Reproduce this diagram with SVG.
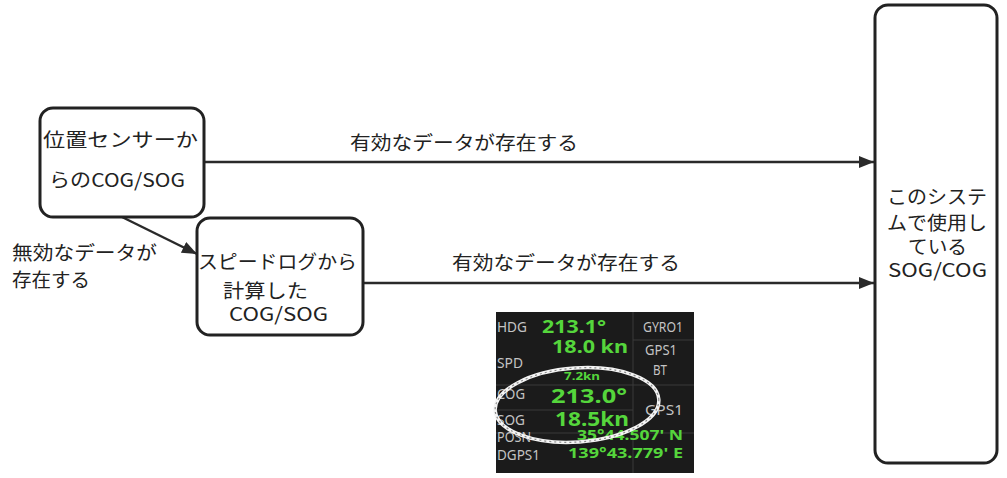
<svg xmlns="http://www.w3.org/2000/svg" width="1007" height="478" viewBox="0 0 1007 478">
<style>
.box{fill:#fff;stroke:#222;stroke-width:3}
.t{font-family:"Noto Sans CJK JP","Noto Sans",sans-serif;font-size:19px;fill:#222}
.edge{stroke:#2a2a2a;stroke-width:2.5;fill:none}
.g{font-family:"Noto Sans","Open Sans",sans-serif;font-weight:bold;fill:#55d63c}
.w{font-family:"Noto Sans","Open Sans",sans-serif;fill:#c4c4c4;font-size:14px}
.div{stroke:#3a3a3a;stroke-width:1}
</style>
<defs>
<marker id="ah" markerUnits="userSpaceOnUse" markerWidth="16" markerHeight="12" refX="15" refY="6" orient="auto">
<path d="M0,0 L15,6 L0,12 z" fill="#2a2a2a"/>
</marker>
</defs>
<rect width="1007" height="478" fill="#fff"/>
<g id="connectors">
<line class="edge" x1="204" y1="162" x2="874" y2="162" marker-end="url(#ah)"/>
<line class="edge" x1="364" y1="283" x2="874" y2="283" marker-end="url(#ah)"/>
<line class="edge" x1="122" y1="217" x2="197" y2="254" marker-end="url(#ah)"/>
<text class="t" x="350" y="150" textLength="228" lengthAdjust="spacingAndGlyphs">有効なデータが存在する</text>
<text class="t" x="452" y="270" textLength="228" lengthAdjust="spacingAndGlyphs">有効なデータが存在する</text>
<text class="t" x="12" y="260" textLength="145" lengthAdjust="spacingAndGlyphs">無効なデータが</text>
<text class="t" x="12" y="287" textLength="78" lengthAdjust="spacingAndGlyphs">存在する</text>
</g>
<g id="node-position">
<rect class="box" x="40" y="108" width="164" height="109" rx="13"/>
<text class="t" x="43" y="147" textLength="155" lengthAdjust="spacingAndGlyphs">位置センサーか</text>
<text class="t" x="49" y="187" textLength="136" lengthAdjust="spacingAndGlyphs">らのCOG/SOG</text>
</g>
<g id="node-speedlog">
<rect class="box" x="197" y="218" width="166" height="117" rx="13"/>
<text class="t" x="198" y="269" textLength="159" lengthAdjust="spacingAndGlyphs">スピードログから</text>
<text class="t" x="223" y="298" textLength="85" lengthAdjust="spacingAndGlyphs">計算した</text>
<text class="t" x="229" y="321" textLength="99" lengthAdjust="spacingAndGlyphs">COG/SOG</text>
</g>
<g id="node-system">
<rect class="box" x="875" y="5" width="122" height="458" rx="13"/>
<text class="t" x="887" y="204" textLength="100" lengthAdjust="spacingAndGlyphs">このシステ</text>
<text class="t" x="887" y="230" textLength="100" lengthAdjust="spacingAndGlyphs">ムで使用し</text>
<text class="t" x="908" y="254" textLength="59" lengthAdjust="spacingAndGlyphs">ている</text>
<text class="t" x="888" y="277" textLength="99" lengthAdjust="spacingAndGlyphs">SOG/COG</text>
</g>
<g id="screenshot">
<rect x="496" y="312" width="198" height="161" fill="#1b1b1b"/>
<line class="div" x1="633" y1="312" x2="633" y2="473"/>
<line class="div" x1="633" y1="340" x2="694" y2="340"/>
<line class="div" x1="633" y1="385" x2="694" y2="385"/>
<line class="div" x1="496" y1="385" x2="633" y2="385"/>
<line class="div" x1="496" y1="410" x2="633" y2="410"/>
<line class="div" x1="496" y1="433" x2="694" y2="433"/>
<text class="w" x="497" y="332" textLength="30" lengthAdjust="spacingAndGlyphs">HDG</text>
<text class="g" x="542" y="333" font-size="18" textLength="64" lengthAdjust="spacingAndGlyphs">213.1°</text>
<text class="w" x="643" y="332" textLength="40" lengthAdjust="spacingAndGlyphs">GYRO1</text>
<text class="g" x="552" y="353" font-size="18" textLength="76" lengthAdjust="spacingAndGlyphs">18.0 kn</text>
<text class="w" x="497" y="368" textLength="26" lengthAdjust="spacingAndGlyphs">SPD</text>
<text class="w" x="645" y="355" textLength="32" lengthAdjust="spacingAndGlyphs">GPS1</text>
<text class="w" x="653" y="375" textLength="14" lengthAdjust="spacingAndGlyphs">BT</text>
<text class="g" x="564" y="380" font-size="10" textLength="36" lengthAdjust="spacingAndGlyphs">7.2kn</text>
<text class="w" x="497" y="399" textLength="28" lengthAdjust="spacingAndGlyphs">COG</text>
<text class="g" x="551" y="403" font-size="19" textLength="76" lengthAdjust="spacingAndGlyphs">213.0°</text>
<text class="w" x="497" y="425" textLength="28" lengthAdjust="spacingAndGlyphs">SOG</text>
<text class="g" x="555" y="426" font-size="19" textLength="74" lengthAdjust="spacingAndGlyphs">18.5kn</text>
<text class="w" x="645" y="415" textLength="38" lengthAdjust="spacingAndGlyphs">GPS1</text>
<text class="w" x="497" y="442" textLength="34" lengthAdjust="spacingAndGlyphs">POSN</text>
<text class="g" x="577" y="440" font-size="14" textLength="106" lengthAdjust="spacingAndGlyphs">35°44.507' N</text>
<text class="w" x="497" y="460" textLength="43" lengthAdjust="spacingAndGlyphs">DGPS1</text>
<text class="g" x="568" y="458" font-size="14" textLength="115" lengthAdjust="spacingAndGlyphs">139°43.779' E</text>
<ellipse cx="577" cy="405" rx="82" ry="37" transform="rotate(-4 577 405)" fill="none" stroke="#f4f4f4" stroke-width="3.5"/>
<ellipse cx="577" cy="405" rx="82" ry="37" transform="rotate(-4 577 405)" fill="none" stroke="#8a8a8a" stroke-width="1.2" stroke-dasharray="2 3"/>
</g>
</svg>
